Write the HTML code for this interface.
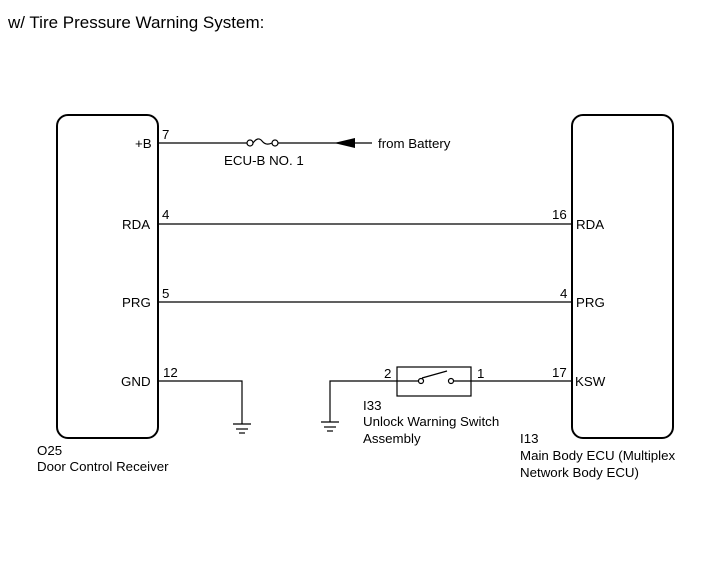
<!DOCTYPE html>
<html><head><meta charset="utf-8"><style>
html,body{margin:0;padding:0;background:#fff;}
svg{display:block;}
text{font-family:"Liberation Sans",Arial,sans-serif;font-size:13.3px;fill:#000;}
</style></head><body>
<svg width="713" height="581" viewBox="0 0 713 581" xmlns="http://www.w3.org/2000/svg">
<rect width="713" height="581" fill="#fff"/>
<text x="8" y="28" style="font-size:17px">w/ Tire Pressure Warning System:</text>
<g fill="none" stroke="#000">
<rect x="57" y="115" width="101" height="323" rx="11" stroke-width="2"/>
<rect x="572" y="115" width="101" height="323" rx="11" stroke-width="2"/>
<g stroke-width="1.2">
<line x1="158" y1="143" x2="247" y2="143"/>
<line x1="278" y1="143" x2="372" y2="143"/>
<circle cx="250" cy="143" r="3"/>
<circle cx="275" cy="143" r="3"/>
<path d="M253,143 Q258,136 262,141 Q266,146 272,143"/>
<line x1="158" y1="224" x2="572" y2="224"/>
<line x1="158" y1="302" x2="572" y2="302"/>
<polyline points="158,381 242,381 242,424"/>
<line x1="233" y1="424" x2="251" y2="424"/>
<line x1="236" y1="429" x2="248" y2="429"/>
<line x1="239" y1="433" x2="245" y2="433"/>
<polyline points="397,381 330,381 330,422"/>
<line x1="321" y1="422" x2="339" y2="422"/>
<line x1="324" y1="427" x2="336" y2="427"/>
<line x1="327" y1="431" x2="333" y2="431"/>
<rect x="397" y="367" width="74" height="29"/>
<line x1="471" y1="381" x2="572" y2="381"/>
<line x1="397" y1="381" x2="418" y2="381"/>
<line x1="454" y1="381" x2="471" y2="381"/>
<circle cx="421" cy="381" r="2.5"/>
<circle cx="451" cy="381" r="2.5"/>
<line x1="422" y1="378" x2="447" y2="371"/>
</g>
</g>
<polygon points="334,143 355,138 355,148" fill="#000"/>
<text x="135" y="148">+B</text>
<text x="162" y="139">7</text>
<text x="224" y="165">ECU-B NO. 1</text>
<text x="378" y="148">from Battery</text>
<text x="122" y="229">RDA</text>
<text x="162" y="219">4</text>
<text x="552" y="219">16</text>
<text x="576" y="229">RDA</text>
<text x="122" y="307">PRG</text>
<text x="162" y="298">5</text>
<text x="560" y="298">4</text>
<text x="576" y="307">PRG</text>
<text x="121" y="386">GND</text>
<text x="163" y="377">12</text>
<text x="384" y="378">2</text>
<text x="477" y="378">1</text>
<text x="552" y="377">17</text>
<text x="575" y="386">KSW</text>
<text x="363" y="410">I33</text>
<text x="363" y="426">Unlock Warning Switch</text>
<text x="363" y="443">Assembly</text>
<text x="37" y="455">O25</text>
<text x="37" y="471">Door Control Receiver</text>
<text x="520" y="443">I13</text>
<text x="520" y="460">Main Body ECU (Multiplex</text>
<text x="520" y="477">Network Body ECU)</text>
</svg>
</body></html>
